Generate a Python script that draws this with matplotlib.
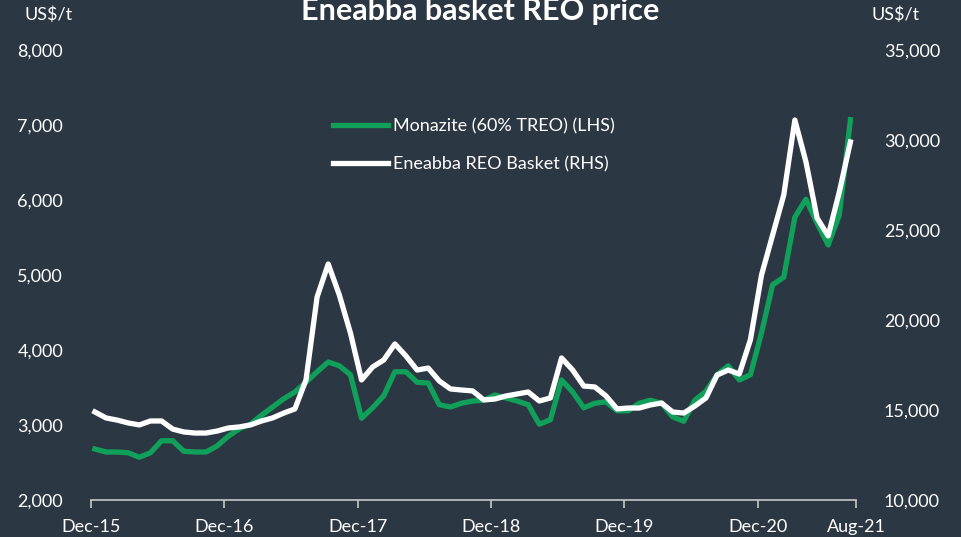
import numpy as np
from matplotlib import pyplot as plt

# monthly, Dec-15 .. Aug-21
monazite = [2680, 2640, 2640, 2630, 2570, 2630, 2790, 2790, 2650, 2640, 2640, 2720,
            2850, 2950, 3010, 3130, 3240, 3350, 3440, 3570, 3710, 3840, 3790, 3670,
            3090, 3230, 3390, 3710, 3710, 3570, 3560, 3270, 3240, 3290, 3320, 3330,
            3400, 3360, 3320, 3270, 3010, 3070, 3600, 3440, 3230, 3290, 3310, 3190,
            3190, 3290, 3330, 3290, 3110, 3050, 3330, 3450, 3670, 3790, 3600, 3670,
            4230, 4870, 4970, 5770, 6010, 5690, 5400, 5800, 7070]
basket = [14890, 14560, 14440, 14280, 14170, 14390, 14390, 13940, 13780, 13720, 13720, 13830,
          14000, 14060, 14170, 14390, 14560, 14830, 15060, 16670, 21280, 23110, 21390, 19280,
          16670, 17390, 17780, 18670, 18000, 17220, 17330, 16610, 16170, 16110, 16060, 15560,
          15610, 15780, 15890, 16000, 15500, 15670, 17890, 17220, 16330, 16280, 15780, 15060,
          15110, 15110, 15280, 15390, 14890, 14830, 15220, 15670, 16940, 17220, 17000, 18900,
          22500, 24720, 26940, 31110, 28780, 25670, 24670, 27110, 29890]
tick_labels = ["Dec-15", "Dec-16", "Dec-17", "Dec-18", "Dec-19", "Dec-20", "Aug-21"]

bg = "#2c3744"
green = "#10a05a"
txt = "white"
plt.rcParams['font.family'] = ['Lato', 'DejaVu Sans']

fig = plt.figure(figsize=(9.61, 5.37), dpi=100, facecolor=bg)
ax = fig.add_axes([0.0947, 0.0689, 0.796, 0.838], facecolor=bg)
ax2 = ax.twinx()

x = np.arange(len(monazite))
l1, = ax.plot(x, monazite, color=green, lw=3.8, label="Monazite (60% TREO) (LHS)")
l2, = ax2.plot(x, basket, color="white", lw=3.8, label="Eneabba REO Basket (RHS)")

xmin, xmax = -0.35, 68.5
ax.set_xlim(xmin, xmax)
ax.set_xticks([i * 12 - 0.35 for i in range(6)] + [xmax])
ax.set_xticklabels(tick_labels)
ax.set_ylim(2000, 8000)
ax.set_yticks(range(2000, 8001, 1000))
ax.set_yticklabels([f"{v:,}" for v in range(2000, 8001, 1000)])
ax2.set_ylim(10000, 35000)
ax2.set_yticks(range(10000, 35001, 5000))
ax2.set_yticklabels([f"{v:,}" for v in range(10000, 35001, 5000)])

for a in (ax, ax2):
    for s in ("top", "left", "right", "bottom"):
        a.spines[s].set_visible(False)
ax.spines["bottom"].set_visible(True)
ax.spines["bottom"].set_color("#c8c8c8")
ax.spines["bottom"].set_linewidth(1.2)
ax.tick_params(axis="x", colors="#c8c8c8", length=6, width=1.2, labelcolor=txt, labelsize=13, pad=8)
ax.tick_params(axis="y", length=0, labelcolor=txt, labelsize=13, pad=20)
ax2.tick_params(axis="y", length=0, labelcolor=txt, labelsize=13, pad=20)

fig.text(0.026, 0.972, "US$/t", color=txt, fontsize=13, va="center", ha="left")
fig.text(0.907, 0.972, "US$/t", color=txt, fontsize=13, va="center", ha="left")
fig.text(0.5, 0.98, "Eneabba basket REO price", color=txt, fontsize=22, fontweight="bold",
         ha="center", va="center")

fig.legend(handles=[l1, l2], loc="center left", bbox_to_anchor=(0.3465, 0.73), frameon=False,
           borderpad=0, borderaxespad=0, fontsize=13, labelcolor=txt,
           handlelength=3.05, handletextpad=0.25, labelspacing=1.2)

fig.savefig("out.png", dpi=100, facecolor=bg)
